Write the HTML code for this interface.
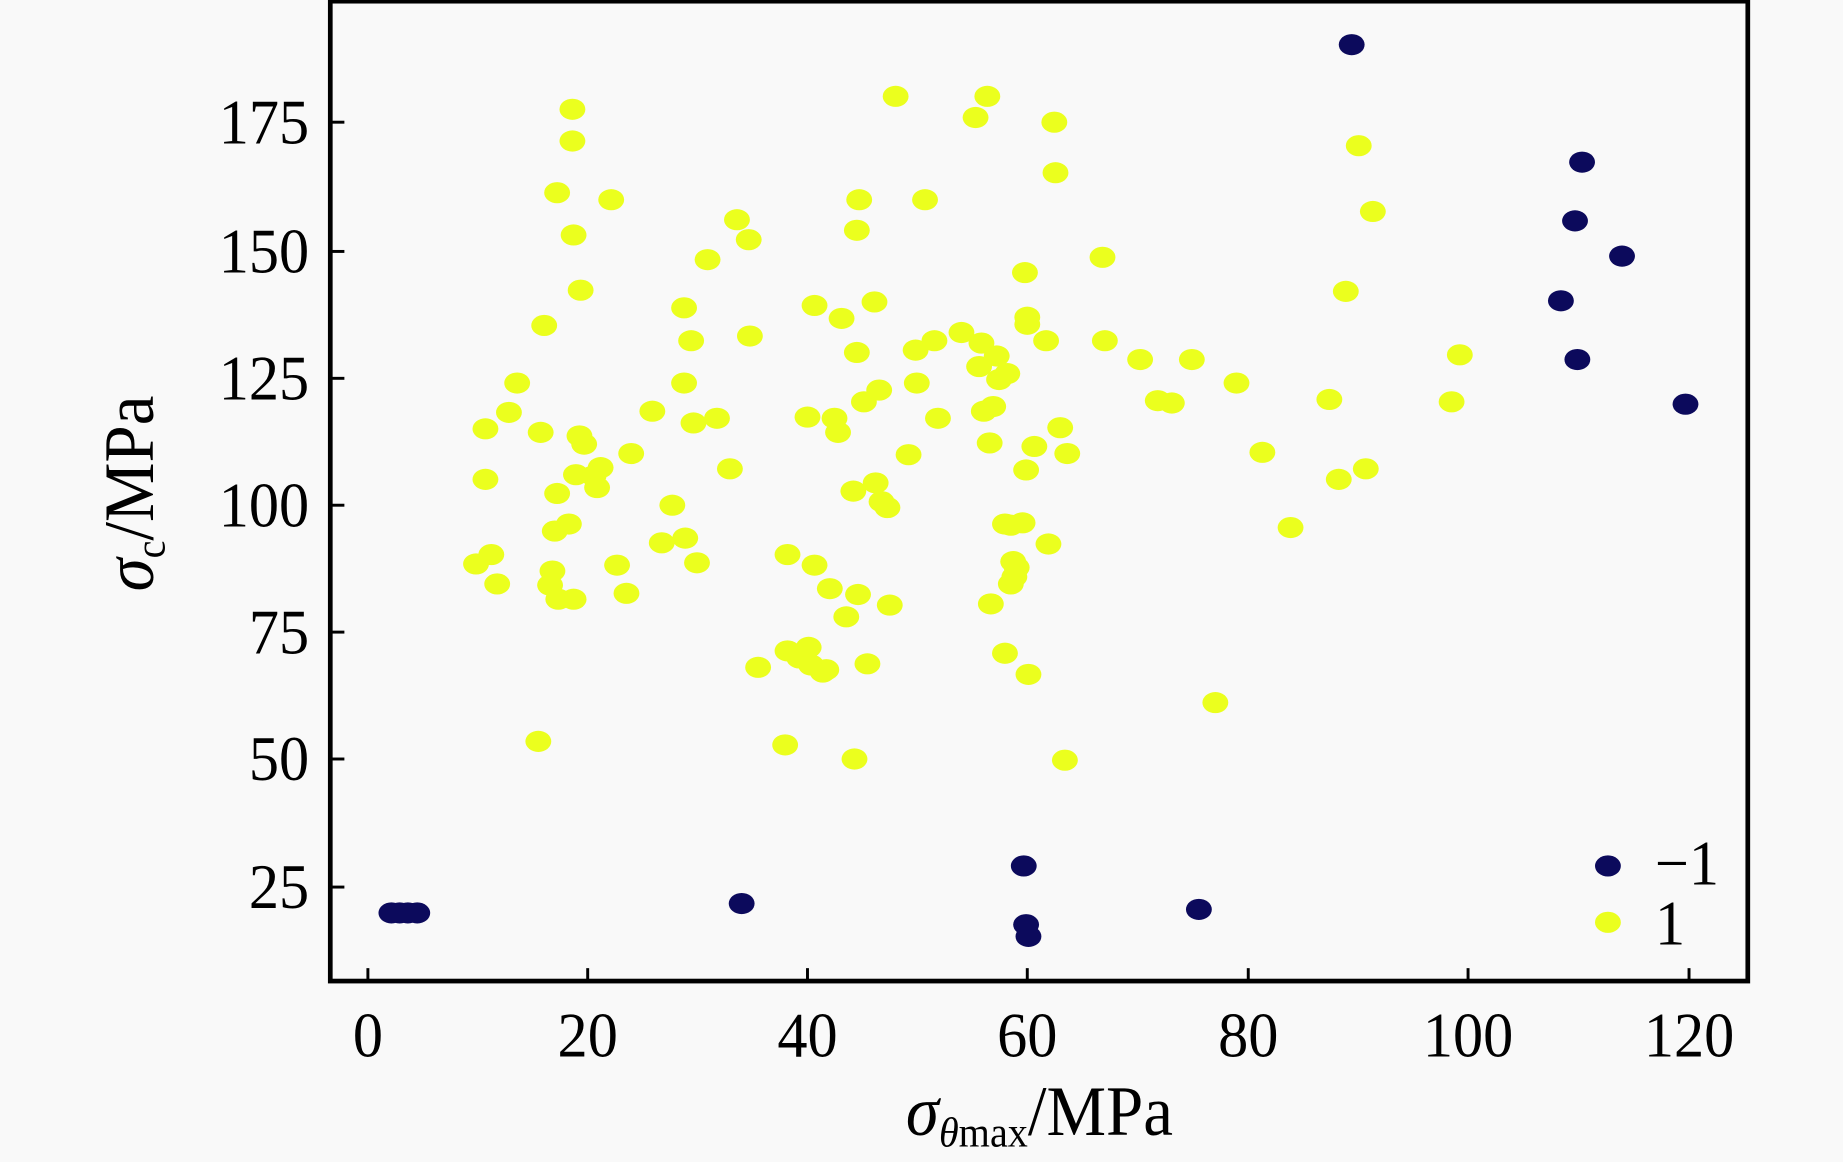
<!DOCTYPE html>
<html><head><meta charset="utf-8"><style>
html,body{margin:0;padding:0;background:#f9f9f9;}
svg{display:block;}
text{font-family:"Liberation Serif",serif;fill:#000;}
</style></head><body>
<svg id="s" width="1843" height="1162" viewBox="0 0 1568 989" preserveAspectRatio="none" xmlns="http://www.w3.org/2000/svg">
<rect x="0" y="0" width="1568" height="989" fill="#f9f9f9"/>
<g id="y" fill="#ebff1e"></g>
<g id="n" fill="#0c0a5c"></g>
<rect x="281" y="1" width="1206" height="834" fill="none" stroke="#000" stroke-width="4"/>
<g stroke="#000" stroke-width="2.5">
<line x1="313" y1="835" x2="313" y2="824"/><line x1="500" y1="835" x2="500" y2="824"/><line x1="687" y1="835" x2="687" y2="824"/><line x1="874" y1="835" x2="874" y2="824"/><line x1="1062" y1="835" x2="1062" y2="824"/><line x1="1249" y1="835" x2="1249" y2="824"/><line x1="1437" y1="835" x2="1437" y2="824"/>
<line x1="281" y1="104" x2="293" y2="104"/><line x1="281" y1="214" x2="293" y2="214"/><line x1="281" y1="322" x2="293" y2="322"/><line x1="281" y1="430" x2="293" y2="430"/><line x1="281" y1="538" x2="293" y2="538"/><line x1="281" y1="646" x2="293" y2="646"/><line x1="281" y1="755" x2="293" y2="755"/>
</g>
<g id="t"></g>
<g transform="translate(998,966) scale(0.95,1)"><text x="0" y="0" font-size="60" text-anchor="end"><tspan font-style="italic">σ</tspan><tspan font-size="36" dy="10"><tspan font-style="italic">θ</tspan>max</tspan><tspan dy="-10">/MPa</tspan></text></g>
<g transform="translate(130,420) rotate(-90) scale(0.95,1)"><text x="0" y="0" font-size="60" text-anchor="middle"><tspan font-style="italic">σ</tspan><tspan font-size="36" dy="10">c</tspan><tspan dy="-10">/MPa</tspan></text></g>
<ellipse cx="1368" cy="737" rx="11" ry="9" fill="#0c0a5c"/>
<ellipse cx="1368" cy="785" rx="11" ry="9" fill="#ebff1e"/>
</svg>
<script>
var NS="http://www.w3.org/2000/svg";
var Y=[[405,480],[413,365],[413,408],[418,472],[423,497],[440,326],[433,351],[458,631],[460,368],[463,277],[468,498],[470,486],[472,452],[474,164],[474,420],[475,510],[484,446],[487,93],[487,120],[488,200],[488,510],[490,404],[493,371],[494,247],[497,378],[505,405],[508,415],[511,398],[520,170],[525,481],[533,505],[537,386],[555,350],[563,462],[572,430],[582,262],[582,326],[583,458],[588,290],[590,360],[593,479],[602,221],[610,356],[621,399],[627,187],[637,204],[638,286],[645,568],[668,634],[670,472],[670,554],[680,560],[687,355],[688,551],[690,566],[693,260],[693,481],[700,572],[703,570],[706,501],[710,356],[713,368],[716,271],[720,525],[726,418],[727,646],[729,300],[729,196],[730,506],[731,170],[735,342],[738,565],[744,257],[745,411],[748,332],[750,427],[755,432],[757,515],[762,82],[773,387],[779,298],[780,326],[787,170],[795,290],[798,356],[818,283],[830,100],[833,312],[835,292],[837,350],[840,82],[842,377],[843,514],[845,346],[848,303],[850,323],[855,446],[855,556],[857,318],[860,447],[860,497],[862,478],[863,491],[865,483],[870,445],[872,232],[873,400],[874,270],[874,276],[875,574],[880,380],[890,290],[892,463],[897,104],[898,147],[902,364],[906,647],[908,386],[938,219],[940,290],[970,306],[985,341],[997,343],[1014,306],[1034,598],[1052,326],[1074,385],[1098,449],[1131,340],[1139,408],[1145,248],[1156,124],[1162,399],[1168,180],[1235,342],[1242,302]];
var N=[[333,777],[340,777],[347,777],[355,777],[631,769],[871,737],[873,787],[875,797],[1020,774],[1150,38],[1346,138],[1340,188],[1380,218],[1328,256],[1342,306],[1434,344]];
function add(id,a){var g=document.getElementById(id);a.forEach(function(p){var e=document.createElementNS(NS,"ellipse");e.setAttribute("cx",p[0]);e.setAttribute("cy",p[1]);e.setAttribute("rx",11);e.setAttribute("ry",9);g.appendChild(e);});}
add("y",Y);add("n",N);
var T=document.getElementById("t");
function lab(x,y,s,anc,fs){var g=document.createElementNS(NS,"g");g.setAttribute("transform","translate("+x+","+y+") scale(0.95,1)");var t=document.createElementNS(NS,"text");t.setAttribute("font-size",fs||54);t.setAttribute("text-anchor",anc);t.textContent=s;g.appendChild(t);T.appendChild(g);}
[[313,"0"],[500,"20"],[687,"40"],[874,"60"],[1062,"80"],[1249,"100"],[1437,"120"]].forEach(function(a){lab(a[0],899,a[1],"middle");});
[[104,"175"],[214,"150"],[322,"125"],[430,"100"],[538,"75"],[646,"50"],[755,"25"]].forEach(function(a){lab(263,a[0]+18,a[1],"end");});
lab(1408,753,"−1","start",54);lab(1408,804,"1","start",54);
</script>
</body></html>
